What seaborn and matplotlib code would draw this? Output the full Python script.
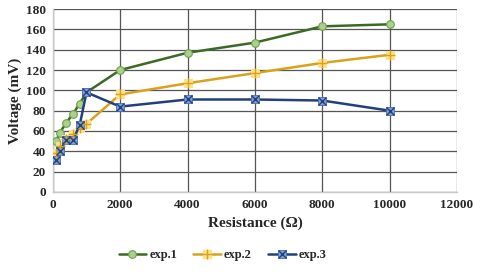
import matplotlib
matplotlib.use('Agg')
import matplotlib.pyplot as plt
import seaborn as sns
import pandas as pd
from matplotlib.legend_handler import HandlerTuple
from matplotlib.lines import Line2D

resistance = [100, 200, 400, 600, 800, 1000, 2000, 4000, 6000, 8000, 10000]
exp1 = [50, 58, 68, 77, 87, 98, 120, 137, 147, 163, 165]
exp2 = [38, 45, 52, 57, 63, 67, 96, 107, 117, 127, 135]
exp3 = [31, 40, 51, 51, 66, 98, 84, 91, 91, 90, 80]

df = pd.DataFrame({'Resistance': resistance, 'exp.1': exp1, 'exp.2': exp2, 'exp.3': exp3})

sns.set_style('white')
plt.rcParams['font.family'] = ['Liberation Serif', 'DejaVu Serif']
plt.rcParams['font.weight'] = 'bold'

fig = plt.figure(figsize=(4.8, 2.75), dpi=100)
ax = fig.add_axes([0.110, 0.302, 0.842, 0.665])

# exp.1 - green circles
sns.lineplot(data=df, x='Resistance', y='exp.1', ax=ax, color='#3b6a24', lw=1.8,
             marker='o', markersize=5.5, markerfacecolor='#a9d18e', markeredgecolor='#6fa04a',
             markeredgewidth=0.8, zorder=3)
# exp.2 - yellow plus on pale square
sns.lineplot(data=df, x='Resistance', y='exp.2', ax=ax, color='#d9a21b', lw=1.8,
             marker='s', markersize=5.5, markerfacecolor='#ffe08a', markeredgecolor='#ffe08a', zorder=3)
ax.plot(df['Resistance'], df['exp.2'], ls='none', marker='+', markersize=6.5,
        markeredgecolor='#d9a21b', markeredgewidth=1.0, zorder=4)
# exp.3 - navy x on blue square
sns.lineplot(data=df, x='Resistance', y='exp.3', ax=ax, color='#22407a', lw=1.8,
             marker='s', markersize=6, markerfacecolor='#7f9fd8', markeredgecolor='#4a6fb5',
             markeredgewidth=0.6, zorder=3)
ax.plot(df['Resistance'], df['exp.3'], ls='none', marker='x', markersize=5.5,
        markeredgecolor='#22407a', markeredgewidth=1.0, zorder=4)

ax.set_xlim(0, 12000)
ax.set_ylim(0, 180)
ax.set_xticks(range(0, 12001, 2000))
ax.set_yticks(range(0, 181, 20))
ax.grid(True, color='#555555', lw=0.9)
ax.set_axisbelow(True)
for s in ['top', 'right']:
    ax.spines[s].set_visible(False)
for s in ['left', 'bottom']:
    ax.spines[s].set_color('#c8c8c8')
    ax.spines[s].set_linewidth(1.0)
ax.tick_params(length=0, labelsize=9.5, pad=5)
for lab in ax.get_xticklabels() + ax.get_yticklabels():
    lab.set_fontweight('bold')
ax.set_xlabel('Resistance (Ω)', fontsize=11, fontweight='bold', labelpad=4)
ax.set_ylabel('Voltage (mV)', fontsize=11, fontweight='bold', labelpad=3)

h1 = Line2D([], [], color='#3b6a24', lw=1.8, marker='o', markersize=5.5,
            markerfacecolor='#a9d18e', markeredgecolor='#6fa04a', markeredgewidth=0.8)
h2a = Line2D([], [], color='#d9a21b', lw=1.8, marker='s', markersize=5.5,
             markerfacecolor='#ffe08a', markeredgecolor='#ffe08a')
h2b = Line2D([], [], ls='none', marker='+', markersize=6.5, markeredgecolor='#d9a21b', markeredgewidth=1.0)
h3a = Line2D([], [], color='#22407a', lw=1.8, marker='s', markersize=6,
             markerfacecolor='#7f9fd8', markeredgecolor='#4a6fb5', markeredgewidth=0.6)
h3b = Line2D([], [], ls='none', marker='x', markersize=5.5, markeredgecolor='#22407a', markeredgewidth=1.0)
ax.legend([h1, (h2a, h2b), (h3a, h3b)], ['exp.1', 'exp.2', 'exp.3'],
          handler_map={tuple: HandlerTuple(ndivide=1)},
          loc='center', bbox_to_anchor=(0.42, -0.345), ncol=3, frameon=False,
          prop={'size': 9, 'weight': 'bold'}, handlelength=2.2, columnspacing=1.3, handletextpad=0.25)

fig.savefig('out.png', dpi=100)
